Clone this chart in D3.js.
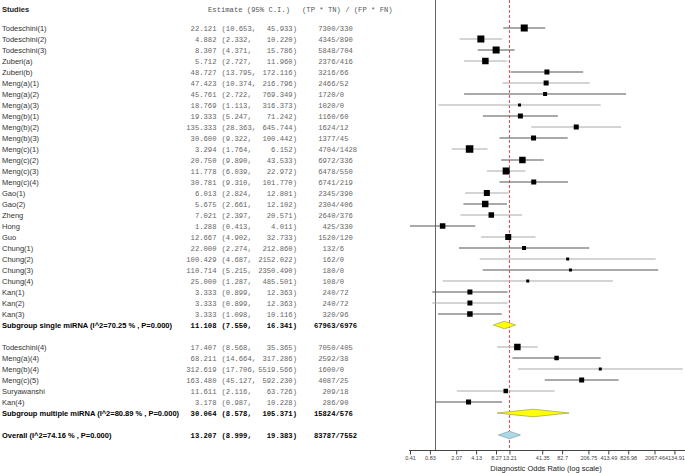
<!DOCTYPE html>
<html><head><meta charset="utf-8">
<script src="https://cdn.jsdelivr.net/npm/d3@7"></script>
<style>body{margin:0;background:#fff}svg{display:block}</style>
</head><body>
<svg id="c" width="685" height="473"></svg>
<script>
// ---- data ----
const studyNames = ["Todeschini(1)","Todeschini(2)","Todeschini(3)","Zuberi(a)","Zuberi(b)","Meng(a)(1)","Meng(a)(2)","Meng(a)(3)","Meng(b)(1)","Meng(b)(2)","Meng(b)(3)","Meng(c)(1)","Meng(c)(2)","Meng(c)(3)","Meng(c)(4)","Gao(1)","Gao(2)","Zheng","Hong","Guo","Chung(1)","Chung(2)","Chung(3)","Chung(4)","Kan(1)","Kan(2)","Kan(3)",
  "Todeschini(4)","Meng(a)(4)","Meng(b)(4)","Meng(c)(5)","Suryawanshi","Kan(4)"];
const studyGroup = [0,0,0,0,0,0,0,0,0,0,0,0,0,0,0,0,0,0,0,0,0,0,0,0,0,0,0, 1,1,1,1,1,1];
const estimates = [22.121,4.882,8.307,5.712,48.727,47.423,45.761,18.769,19.333,135.333,30.600,3.294,20.750,11.778,30.781,6.013,5.675,7.021,1.288,12.667,22.000,100.429,110.714,25.000,3.333,3.333,3.333,
  17.407,68.211,312.619,163.480,11.611,3.178];
const lowerCI = [10.653,2.332,4.371,2.727,13.795,10.374,2.722,1.113,5.247,28.363,9.322,1.764,9.890,6.039,9.310,2.824,2.661,2.397,0.413,4.902,2.274,4.687,5.215,1.287,0.899,0.899,1.098,
  8.568,14.664,17.706,45.127,2.116,0.987];
const upperCI = [45.933,10.220,15.786,11.960,172.116,216.796,769.349,316.373,71.242,645.744,100.442,6.152,43.533,22.972,101.770,12.801,12.102,20.571,4.011,32.733,212.860,2152.022,2350.490,485.501,12.363,12.363,10.116,
  35.365,317.286,5519.566,592.230,63.726,10.228];
const tpTn = [7300,4345,5848,2376,3216,2466,1720,1020,1160,1624,1377,4704,6972,6478,6741,2345,2304,2640,425,1520,132,162,180,108,240,240,320,
  7050,2592,1600,4087,209,286];
const fpFn = [330,890,704,416,66,52,0,0,60,12,45,1428,336,550,219,390,406,376,330,120,6,0,0,0,72,72,96,
  405,38,0,25,18,90];
const weights = [4.9,4.9,4.9,4.2,2.5,2.5,1.6,0.9,2.5,2.5,2.5,5.6,4.2,4.9,2.5,3.6,4.2,3.0,3.0,3.6,1.6,0.9,0.9,0.9,2.5,2.5,3.0,
  4.2,2.0,0.9,2.5,2.0,2.5];

const summaryLabels = ["Subgroup single miRNA (I^2=70.25 % , P=0.000)","Subgroup multiple miRNA (I^2=80.89 % , P=0.000)","Overall (I^2=74.16 % , P=0.000)"];
const summaryEst = [11.108,30.064,13.207];
const summaryLower = [7.550,8.578,8.999];
const summaryUpper = [16.341,105.371,19.383];
const summaryTpTn = [67963,15824,83787];
const summaryFpFn = [6976,576,7552];

const tickValues = [0.4134914,0.8269828,2.067457,4.134914,8.269828,13.207,41.34914,82.69828,206.7457,413.4914,826.9828,2067.457,4134.914];
const tickLabels = ["0.41","0.83","2.07","4.13","8.27","13.21","41.35","82.7","206.75","413.49","826.98","2067.46","4134.91"];

const headers = ["Studies","Estimate (95% C.I.)","(TP * TN) / (FP * FN)"];
const axisTitle = "Diagnostic Odds Ratio (log scale)";

// ---- layout ----
const W = 685, H = 473;
const svg = d3.select("#c");
const x = d3.scaleLog().domain([tickValues[0], tickValues[tickValues.length-1]]).range([410, 674.4]);
const y = d3.scaleLinear().domain([0, 37]).range([28, 435]);
const side = d3.scaleSqrt().domain([0, d3.max(weights)]).range([0, 7.5]);
const axisY = 450.5;
const monoSize = 7.2;

const sans = "'Liberation Sans', Arial, sans-serif";
const mono = "'Liberation Mono', 'Courier New', monospace";

const studyRow = studyNames.map((s, i) => studyGroup[i] === 0 ? i : i + 2);
const summaryRow = [27, 35, 37];

const rows = studyNames.map((n, i) => ({name: n, est: estimates[i], lo: lowerCI[i], hi: upperCI[i], num: tpTn[i], den: fpFn[i], w: weights[i], r: studyRow[i], bold: false}));
const sums = summaryLabels.map((n, i) => ({name: n, est: summaryEst[i], lo: summaryLower[i], hi: summaryUpper[i], num: summaryTpTn[i], den: summaryFpFn[i], r: summaryRow[i], bold: true, k: i}));
const allRows = rows.concat(sums);

// headers
const headY = 9;
svg.append("text").attr("x", 2).attr("y", headY).attr("dy", "0.35em").attr("font-family", sans).attr("font-size", 7.5).attr("font-weight", "bold").attr("fill", "#222").text(headers[0]);
svg.append("text").attr("x", 208).attr("y", headY).attr("dy", "0.35em").attr("font-family", mono).attr("font-size", monoSize).attr("fill", "#555").style("white-space", "pre").text(headers[1]);
svg.append("text").attr("x", 302).attr("y", headY).attr("dy", "0.35em").attr("font-family", mono).attr("font-size", monoSize).attr("fill", "#555").style("white-space", "pre").text(headers[2]);

// text columns
const tg = svg.append("g");
const rowG = tg.selectAll("g").data(allRows).join("g").attr("transform", d => `translate(0,${y(d.r)})`);
rowG.append("text").attr("x", 2).attr("dy", "0.35em").attr("font-family", sans).attr("font-size", 7.5)
  .attr("font-weight", d => d.bold ? "bold" : "normal").attr("fill", d => d.bold ? "#000" : "#333").text(d => d.name);
const monoText = (sel) => sel.attr("dy", "0.35em").attr("font-family", mono).attr("font-size", monoSize)
  .attr("font-weight", d => d.bold ? "bold" : "normal").attr("fill", d => d.bold ? "#000" : "#666");
rowG.append("text").call(monoText).attr("x", 216.5).attr("text-anchor", "end").text(d => d.est.toFixed(3));
rowG.append("text").call(monoText).attr("x", 221.5).text(d => "(" + d.lo.toFixed(3) + ",");
rowG.append("text").call(monoText).attr("x", 297).attr("text-anchor", "end").text(d => d.hi.toFixed(3) + ")");
rowG.append("text").call(monoText).attr("x", 335.5).attr("text-anchor", "end").text(d => d.num);
rowG.append("text").call(monoText).attr("x", 335.5).text(d => "/" + d.den);

// reference lines
svg.append("line").attr("x1", Math.round(x(1)) + 0.5).attr("x2", Math.round(x(1)) + 0.5).attr("y1", 0).attr("y2", axisY).attr("stroke", "#666").attr("stroke-width", 1);
const px = Math.round(x(summaryEst[2])) + 0.5;
svg.append("line").attr("x1", px).attr("x2", px).attr("y1", 0).attr("y2", axisY)
  .attr("stroke", "#ff4a4a").attr("stroke-width", 1).attr("stroke-dasharray", "3,2");

// CI lines and squares
const pg = svg.append("g");
pg.selectAll("line.ci").data(rows).join("line").attr("class", "ci")
  .attr("x1", d => x(d.lo)).attr("x2", d => x(d.hi)).attr("y1", d => y(d.r)).attr("y2", d => y(d.r))
  .attr("stroke", d => d.r % 2 === 0 ? "#555" : "#aaa").attr("stroke-width", 1.1);
pg.selectAll("rect.sq").data(rows).join("rect").attr("class", "sq")
  .attr("x", d => x(d.est) - side(d.w) / 2).attr("y", d => y(d.r) - side(d.w) / 2)
  .attr("width", d => side(d.w)).attr("height", d => side(d.w)).attr("fill", "#000");

// diamonds
const dFill = ["#ffff00", "#ffff00", "#add8e6"];
const dStroke = ["#a0a040", "#a0a040", "#7f9fb0"];
pg.selectAll("path.dia").data(sums).join("path").attr("class", "dia")
  .attr("d", d => { const cy = y(d.r), h = 3.8; return `M${x(d.lo)},${cy}L${x(d.est)},${cy - h}L${x(d.hi)},${cy}L${x(d.est)},${cy + h}Z`; })
  .attr("fill", d => dFill[d.k]).attr("stroke", d => dStroke[d.k]).attr("stroke-width", 0.7);

// axis
const axis = d3.axisBottom(x).tickValues(tickValues).tickFormat((d, i) => tickLabels[i]).tickSize(4).tickPadding(2);
const ag = svg.append("g").attr("transform", `translate(0,${axisY})`).call(axis);
ag.select(".domain").remove();
ag.append("line").attr("x1", x.range()[0] - 1).attr("x2", W).attr("y1", 0).attr("y2", 0).attr("stroke", "#444");
ag.selectAll(".tick line").attr("stroke", "#444");
ag.selectAll(".tick text").attr("font-family", sans).attr("font-size", 5.5).attr("fill", "#444");
svg.append("text").attr("x", 546).attr("y", 468).attr("dy", "0.35em").attr("text-anchor", "middle")
  .attr("font-family", sans).attr("font-size", 7.5).attr("fill", "#222").text(axisTitle);
</script>
</body></html>
